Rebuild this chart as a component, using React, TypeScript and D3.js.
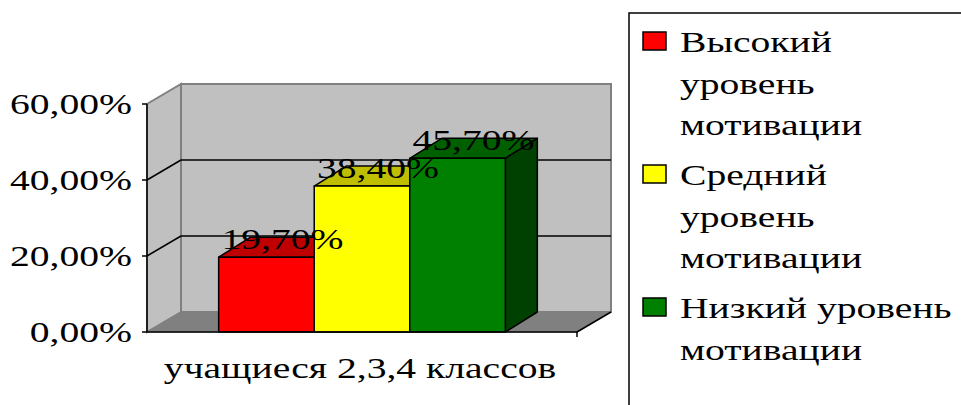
import React from "react"
import * as d3 from "d3"

// Data
const categories = ["учащиеся 2,3,4 классов"]
const series = ["Высокий уровень мотивации", "Средний уровень мотивации", "Низкий уровень мотивации"]
const values = [0.197, 0.384, 0.457]
const colors = ["#ff0000", "#ffff00", "#008000"]
const legendLines = [
  ["Высокий", "уровень", "мотивации"],
  ["Средний", "уровень", "мотивации"],
  ["Низкий уровень", "мотивации"],
]
const yTicks = [0, 0.2, 0.4, 0.6]

const fmt = (v: number) => (v * 100).toFixed(2).replace(".", ",") + "%"

const font = "'Liberation Serif', 'Times New Roman', serif"
const fs = 30
const sx = 1.32 // the source picture is stretched sideways

function Txt({ x, y, anchor, children }: { x: number; y: number; anchor: string; children: any }) {
  return (
    <text
      transform={`translate(${x},${y}) scale(${sx},1)`}
      textAnchor={anchor}
      fontFamily={font}
      fontSize={fs}
      fill="#000"
    >
      {children}
    </text>
  )
}

export default function App() {
  const W = 961
  const H = 405

  // Dimensions
  const left = 147
  const right = 577
  const bottom = 332
  const top = 104
  const dx = 34
  const dy = -20

  // Scales
  const y = d3.scaleLinear().domain([0, 0.6]).range([bottom, top])
  const x0 = d3.scaleBand().domain(categories).range([left, right])
  const x1 = d3
    .scaleBand()
    .domain(series)
    .range([0, x0.bandwidth()])
    .paddingInner(0)
    .paddingOuter(0.75)

  const pts = (p: number[][]) => p.map(d => d.join(",")).join(" ")
  const shade = (c: string, k: number) => {
    const r = d3.rgb(c)
    return d3.rgb(r.r * k, r.g * k, r.b * k).formatHex()
  }

  const bdx = 32
  const bdy = -20

  return (
    <svg width={W} height={H} style={{ position: "absolute", left: 0, top: 0, background: "#fff" }}>
      {/* side wall */}
      <polygon
        points={pts([[left, bottom], [left, top], [left + dx, top + dy], [left + dx, bottom + dy]])}
        fill="#c0c0c0"
        stroke="#808080"
        strokeWidth={2}
      />
      {/* back wall */}
      <rect
        x={left + dx}
        y={top + dy}
        width={right - left}
        height={bottom - top}
        fill="#c0c0c0"
        stroke="#808080"
        strokeWidth={2}
      />
      {/* floor */}
      <polygon
        points={pts([[left, bottom], [right, bottom], [right + dx, bottom + dy], [left + dx, bottom + dy]])}
        fill="#808080"
        stroke="#808080"
        strokeWidth={1}
      />
      <line x1={right} y1={bottom} x2={right + dx} y2={bottom + dy} stroke="#000" strokeWidth={1.5} />

      {/* gridlines */}
      {yTicks.filter(t => t > 0 && t < 0.6).map(t => (
        <g key={t}>
          <line x1={left} y1={y(t)} x2={left + dx} y2={y(t) + dy} stroke="#000" strokeWidth={1.5} />
          <line x1={left + dx} y1={y(t) + dy} x2={right + dx} y2={y(t) + dy} stroke="#000" strokeWidth={1.5} />
        </g>
      ))}

      {/* bars */}
      {categories.map(cat =>
        series.map((s, i) => {
          const bx = (x0(cat) ?? 0) + (x1(s) ?? 0)
          const bw = x1.bandwidth()
          const by = y(values[i])
          const c = colors[i]
          return (
            <g key={s} stroke="#000" strokeWidth={1.5} strokeLinejoin="round">
              <polygon points={pts([[bx, by], [bx + bw, by], [bx + bw + bdx, by + bdy], [bx + bdx, by + bdy]])} fill={shade(c, 0.75)} />
              <polygon points={pts([[bx + bw, by], [bx + bw, bottom], [bx + bw + bdx, bottom + bdy], [bx + bw + bdx, by + bdy]])} fill={shade(c, 0.5)} />
              <rect x={bx} y={by} width={bw} height={bottom - by} fill={c} />
            </g>
          )
        })
      )}

      {/* data labels */}
      {categories.map(cat =>
        series.map((s, i) => {
          const cx = (x0(cat) ?? 0) + (x1(s) ?? 0) + x1.bandwidth() / 2 + bdx / 2
          const cy = y(values[i]) + bdy / 2 + 2
          return (
            <Txt key={s} x={cx} y={cy} anchor="middle">
              {fmt(values[i])}
            </Txt>
          )
        })
      )}

      {/* axes */}
      <line x1={left} y1={top} x2={left} y2={bottom} stroke="#000" strokeWidth={1.5} />
      <line x1={left} y1={bottom} x2={right} y2={bottom} stroke="#000" strokeWidth={1.5} />
      <line x1={right} y1={bottom} x2={right} y2={bottom + 5} stroke="#000" strokeWidth={1.5} />
      {yTicks.map(t => (
        <g key={t}>
          <line x1={left - 5} y1={y(t)} x2={left} y2={y(t)} stroke="#000" strokeWidth={1.5} />
          <Txt x={132} y={y(t) + 10} anchor="end">
            {fmt(t)}
          </Txt>
        </g>
      ))}
      {categories.map(cat => (
        <Txt key={cat} x={(x0(cat) ?? 0) + x0.bandwidth() / 2 - 2} y={378} anchor="middle">
          {cat}
        </Txt>
      ))}

      {/* legend */}
      <rect x={629} y={13} width={400} height={420} fill="#fff" stroke="#000" strokeWidth={1.5} />
      {legendLines.map((lines, i) => {
        const before = legendLines.slice(0, i).reduce((a, l) => a + l.length, 0)
        const by = 52 + before * 41.5 + i * 8.5
        return (
          <g key={series[i]}>
            <rect x={643} y={by - 20} width={23} height={18} fill={colors[i]} stroke="#000" strokeWidth={1.5} />
            {lines.map((ln, j) => (
              <Txt key={j} x={680} y={by + j * 41.5} anchor="start">
                {ln}
              </Txt>
            ))}
          </g>
        )
      })}
    </svg>
  )
}
